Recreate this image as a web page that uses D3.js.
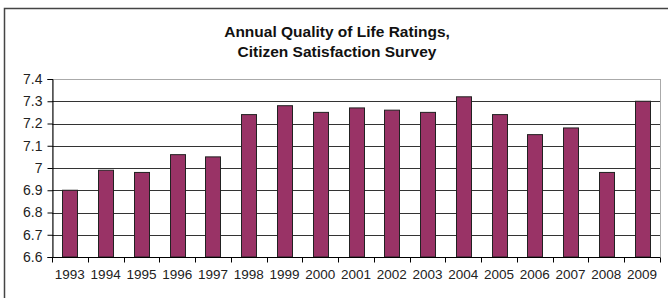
<!DOCTYPE html>
<html>
<head>
<meta charset="utf-8">
<script src="https://cdn.jsdelivr.net/npm/d3@7"></script>
<style>
  body { margin: 0; background: #fff; }
  svg { display: block; font-family: "Liberation Sans", Arial, sans-serif; }
</style>
</head>
<body>
<svg id="chart" width="668" height="298"></svg>
<script>
const years = ["1993", "1994", "1995", "1996", "1997", "1998", "1999", "2000", "2001",
  "2002", "2003", "2004", "2005", "2006", "2007", "2008", "2009"];
const ratings = [6.90, 6.99, 6.98, 7.06, 7.05, 7.24, 7.28, 7.25, 7.27,
  7.26, 7.25, 7.32, 7.24, 7.15, 7.18, 6.98, 7.30];
const yTicks = [6.6, 6.7, 6.8, 6.9, 7.0, 7.1, 7.2, 7.3, 7.4];
const titleLines = ["Annual Quality of Life Ratings,", "Citizen Satisfaction Survey"];

const margin = { top: 79, right: 8, bottom: 41, left: 52 };
const innerW = 660 - margin.left;
const innerH = 257 - margin.top;

const svg = d3.select("#chart");

// outer frame (cropped on the right and bottom)
svg.append("rect")
  .attr("x", 4.5).attr("y", 8.5)
  .attr("width", 700).attr("height", 400)
  .attr("fill", "none")
  .attr("stroke", "#444")
  .attr("stroke-width", 1.5);

svg.append("text")
  .attr("x", 337).attr("y", 37)
  .attr("text-anchor", "middle")
  .attr("font-size", 15.5)
  .attr("font-weight", "bold")
  .attr("fill", "#111")
  .selectAll("tspan")
  .data(titleLines)
  .join("tspan")
  .attr("x", 337)
  .attr("dy", (d, i) => i === 0 ? 0 : 20)
  .text(d => d);

const g = svg.append("g").attr("transform", `translate(${margin.left},${margin.top})`);

const xb = d3.scaleBand().domain(years).range([0, innerW]);
const y = d3.scaleLinear().domain([6.6, 7.4]).range([innerH, 0]);

// plot area border
g.append("rect")
  .attr("x", 0.5).attr("y", 0.5)
  .attr("width", innerW).attr("height", innerH)
  .attr("fill", "none")
  .attr("stroke", "#aaa");

// gridlines
g.append("g")
  .selectAll("line")
  .data(yTicks.slice(1, -1))
  .join("line")
  .attr("x1", 0).attr("x2", innerW)
  .attr("y1", d => Math.round(y(d)) + 0.5)
  .attr("y2", d => Math.round(y(d)) + 0.5)
  .attr("stroke", "#333");

// bars
g.append("g")
  .selectAll("rect")
  .data(ratings)
  .join("rect")
  .attr("x", (d, i) => Math.round(xb(years[i]) + xb.bandwidth() / 2 - 7.5) + 0.5)
  .attr("y", d => y(d))
  .attr("width", 15)
  .attr("height", d => innerH - y(d))
  .attr("fill", "#993366")
  .attr("stroke", "#222")
  .attr("stroke-width", 1);

// y axis
const yAxis = d3.axisLeft(y).tickValues(yTicks).tickSize(5).tickPadding(5)
  .tickFormat(d => d3.format("")(Math.round(d * 10) / 10));
g.append("g")
  .attr("transform", "translate(0.5,0)")
  .call(yAxis)
  .call(s => s.select(".domain").attr("stroke", "#000"))
  .call(s => s.selectAll(".tick line").attr("stroke", "#000"))
  .call(s => s.selectAll("text").attr("font-size", 14).attr("fill", "#222")
    .attr("font-family", "Liberation Sans, Arial, sans-serif"));

// x axis with ticks between categories
const xAxisG = g.append("g").attr("transform", `translate(0,${innerH + 0.5})`);
xAxisG.append("line")
  .attr("x1", 0).attr("x2", innerW)
  .attr("stroke", "#000");
xAxisG.selectAll("line.tk")
  .data(years.concat(["end"]))
  .join("line")
  .attr("class", "tk")
  .attr("x1", (d, i) => Math.round(i * xb.step()) + 0.5)
  .attr("x2", (d, i) => Math.round(i * xb.step()) + 0.5)
  .attr("y1", 0).attr("y2", 5)
  .attr("stroke", "#000");
xAxisG.selectAll("text")
  .data(years)
  .join("text")
  .attr("x", d => xb(d) + xb.bandwidth() / 2)
  .attr("y", 21)
  .attr("text-anchor", "middle")
  .attr("font-size", 13.5)
  .attr("fill", "#222")
  .text(d => d);
</script>
</body>
</html>
